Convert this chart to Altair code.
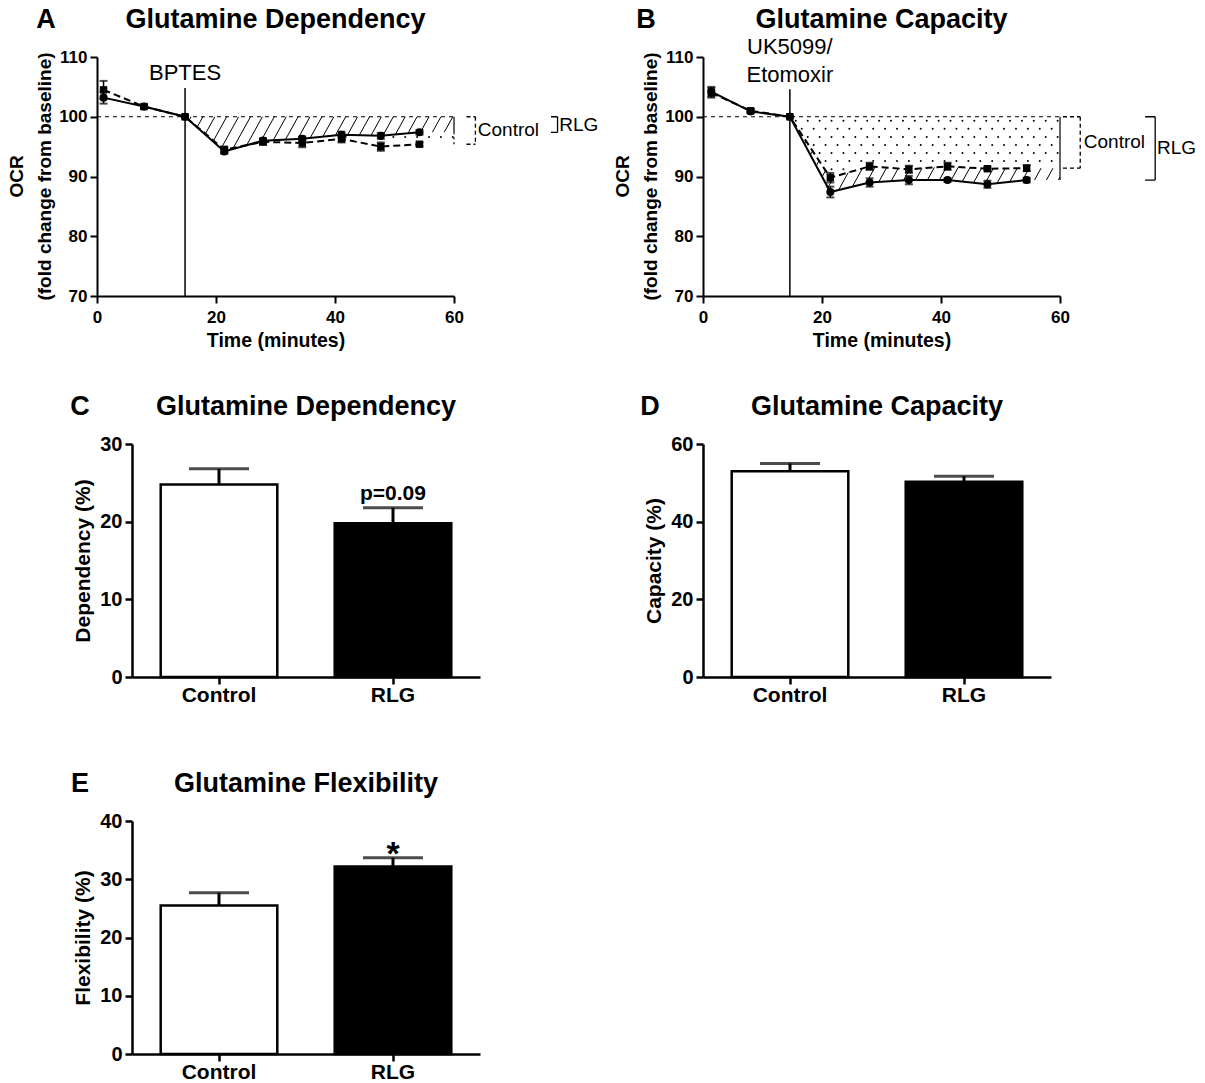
import altair as alt
import numpy as np
import pandas as pd

FONT = "Liberation Sans"
GROUPS = ["Control", "RLG"]

# ---------------- Panel A : Glutamine Dependency (OCR time course)
a_time = [1.1, 7.9, 14.8, 21.4, 27.9, 34.5, 41.1, 47.7, 54.2]
a_control = [104.5, 101.7, 100.0, 94.5, 95.8, 95.6, 96.3, 95.0, 95.4]
a_control_sem = [1.5, 0.3, 0.0, 0.5, 0.5, 0.7, 0.6, 0.7, 0.3]
a_rlg = [103.2, 101.7, 100.0, 94.2, 96.0, 96.3, 97.0, 96.8, 97.4]
a_rlg_sem = [1.0, 0.3, 0.0, 0.4, 0.4, 0.4, 0.5, 0.5, 0.4]
a_injection = 14.8
a_injection_labels = ["BPTES"]

# ---------------- Panel B : Glutamine Capacity (OCR time course)
b_time = [1.4, 8.0, 14.6, 21.4, 28.0, 34.6, 41.1, 47.8, 54.4]
b_control = [104.0, 101.0, 100.0, 89.8, 91.7, 91.2, 91.7, 91.3, 91.4]
b_control_sem = [0.8, 0.3, 0.0, 0.8, 0.6, 0.6, 0.6, 0.3, 0.5]
b_rlg = [104.2, 100.9, 100.0, 87.4, 89.0, 89.4, 89.4, 88.7, 89.4]
b_rlg_sem = [0.8, 0.3, 0.0, 0.9, 0.7, 0.7, 0.3, 0.6, 0.4]
b_injection = 14.6
b_injection_labels = ["UK5099/", "Etomoxir"]

# ---------------- Panels C, D, E : bar charts
dependency = [24.8, 19.8]
dependency_sem = [2.0, 2.0]
capacity = [53.0, 50.3]
capacity_sem = [2.0, 1.4]
flexibility = [25.5, 32.2]
flexibility_sem = [2.2, 1.5]

X_TICKS = [0, 20, 40, 60]
Y_TICKS = [70, 80, 90, 100, 110]


def interp_fn(times, vals):
    tx = np.array(list(times) + [60.0])
    vx = np.array(list(vals) + [vals[-1]])
    return lambda t: np.interp(t, tx, vx)


def const_fn(c):
    return lambda t: np.full(np.shape(t), float(c))


def hatch_df(lo, hi, t0, t1, slope, step):
    ts = np.linspace(t0, t1, 4001)
    lo_v, hi_v = lo(ts), hi(ts)
    rows = []
    for c in np.arange(t0 + step * 0.5, t1 + 40.0 / slope, step):
        v = 100.0 + slope * (ts - c)
        ok = (v >= lo_v) & (v <= hi_v)
        idx = np.flatnonzero(ok)
        if idx.size < 2:
            continue
        br = np.flatnonzero(np.diff(idx) > 1)
        starts = np.r_[idx[0], idx[br + 1]]
        ends = np.r_[idx[br], idx[-1]]
        for s, e in zip(starts, ends):
            if e > s:
                rows.append({"t": ts[s], "v": v[s], "t2": ts[e], "v2": v[e]})
    return pd.DataFrame(rows, columns=["t", "v", "t2", "v2"])


def dots_df(lo, hi, t0, t1, dt, dv, margin):
    rows = []
    j = 0
    v = 100.0 - dv * 0.5
    while v > 70:
        off = dt * 0.5 if j % 2 else 0.0
        t = t0 + dt * 0.5 + off
        while t < t1:
            a = lo(np.array([t]))[0]
            b = hi(np.array([t]))[0]
            if a + margin < v < b - margin:
                rows.append({"t": t, "v": v})
            t += dt
        v -= dv
        j += 1
    if not rows:
        rows.append({"t": None, "v": None})
    return pd.DataFrame(rows, columns=["t", "v"])


def label_layer(text, x, y, size, weight="bold", align="center", angle=0,
                baseline="middle", color="black"):
    return alt.Chart(pd.DataFrame({"label": [text]})).mark_text(
        font=FONT, fontSize=size, fontWeight=weight, align=align, angle=angle,
        baseline=baseline, color=color
    ).encode(x=alt.value(x), y=alt.value(y), text="label:N")


def spacers(left=None, top=None, right=None, bottom=None):
    """Invisible (white) anchors that fix the layout bounds of a panel."""
    out = []
    if left is not None:
        out.append(label_layer(".", left, top, 10, weight="normal", align="left",
                               baseline="top", color="white"))
    if right is not None:
        out.append(label_layer(".", right, bottom, 10, weight="normal", align="right",
                               baseline="bottom", color="white"))
    return out


def line_panel(times, ctrl, ctrl_sem, rlg, rlg_sem, inj, inj_top, inj_labels,
               inj_label_y, shade, brackets, edges, letter, letter_dx, title,
               width, height, left_space, right_space):
    xs = alt.Scale(domain=[0, 60], nice=False)
    ys = alt.Scale(domain=[70, 110], nice=False)
    x_axis = alt.Axis(values=X_TICKS, title="Time (minutes)", format="d",
                      labelFontSize=17, titleFontSize=19.5, tickSize=7,
                      labelPadding=6, titlePadding=6, labelFlush=False)
    y_axis = alt.Axis(values=Y_TICKS, title=None, labelFlush=False,
                      labelFontSize=17, tickSize=7, labelPadding=3)

    def X(f):
        return alt.X(f, type="quantitative", scale=xs, axis=x_axis)

    def Y(f):
        return alt.Y(f, type="quantitative", scale=ys, axis=y_axis)

    layers = []
    for kind, lo, hi in shade:
        if kind == "hatch":
            h = hatch_df(lo, hi, inj, 60.0, 1.8, 2.0)
            layers.append(alt.Chart(h).mark_rule(color="black", strokeWidth=1)
                          .encode(X("t"), Y("v"), x2="t2", y2="v2"))
        else:
            d = dots_df(lo, hi, inj, 60.0, 2.0, 1.35, 0.35)
            layers.append(alt.Chart(d).mark_circle(color="black", size=4, opacity=1)
                          .encode(X("t"), Y("v")))
    base = pd.DataFrame({"t": [0.0], "t2": [60.0], "v": [100.0]})
    layers.append(alt.Chart(base).mark_rule(color="black", strokeWidth=1, strokeDash=[4, 4])
                  .encode(X("t"), x2="t2", y=Y("v")))
    edge_df = pd.DataFrame(edges, columns=["t", "v", "v2", "dash"])
    for dash, sub in edge_df.groupby("dash"):
        layers.append(alt.Chart(sub).mark_rule(
            color="black", strokeWidth=1.2,
            strokeDash=[2, 3] if dash else [1, 0])
            .encode(X("t"), Y("v"), y2="v2"))
    inj_df = pd.DataFrame({"t": [inj], "v": [70.0], "v2": [inj_top]})
    layers.append(alt.Chart(inj_df).mark_rule(color="black", strokeWidth=1.5)
                  .encode(X("t"), Y("v"), y2="v2"))
    df = pd.DataFrame({
        "t": list(times) * 2,
        "v": list(ctrl) + list(rlg),
        "sem": list(ctrl_sem) + list(rlg_sem),
        "group": ["Control"] * len(times) + ["RLG"] * len(times),
    })
    df["lo"] = df["v"] - df["sem"]
    df["hi"] = df["v"] + df["sem"]
    dfc = df[df["group"] == "Control"]
    dfr = df[df["group"] == "RLG"]
    layers.append(alt.Chart(dfc).mark_line(color="black", strokeWidth=2, strokeDash=[7, 4])
                  .encode(X("t"), Y("v")))
    layers.append(alt.Chart(dfr).mark_line(color="black", strokeWidth=2)
                  .encode(X("t"), Y("v")))
    dfe = df[df["sem"] > 0]
    layers.append(alt.Chart(dfe).mark_rule(color="black", strokeWidth=1.5)
                  .encode(X("t"), Y("lo"), y2="hi"))
    for f in ["lo", "hi"]:
        layers.append(alt.Chart(dfe).mark_tick(color="black", orient="horizontal",
                                                size=8, thickness=2)
                      .encode(X("t"), Y(f)))
    layers.append(alt.Chart(dfc).mark_point(shape="square", filled=True, size=55,
                                            color="black", opacity=1)
                  .encode(X("t"), Y("v")))
    layers.append(alt.Chart(dfr).mark_point(shape="circle", filled=True, size=65,
                                            color="black", opacity=1)
                  .encode(X("t"), Y("v")))
    for name, xa, xb, bottom, dashed, tx in brackets:
        segs = pd.DataFrame({
            "t": [xa, xb, xa], "t2": [xb, xb, xb],
            "v": [100.0, 100.0, bottom], "v2": [100.0, bottom, bottom],
        })
        layers.append(alt.Chart(segs).mark_rule(
            color="black", strokeWidth=1.3,
            strokeDash=[4, 3] if dashed else [1, 0])
            .encode(X("t"), Y("v"), x2="t2", y2="v2"))
        lab = pd.DataFrame({"t": [tx], "v": [(100.0 + bottom) / 2], "label": [name]})
        layers.append(alt.Chart(lab).mark_text(font=FONT, fontSize=19, align="left",
                                               baseline="middle", color="black")
                      .encode(X("t"), Y("v"), text="label:N"))
    il = pd.DataFrame({"t": [inj] * len(inj_labels), "v": inj_label_y, "label": inj_labels})
    layers.append(alt.Chart(il).mark_text(font=FONT, fontSize=22, align="center",
                                          baseline="middle", color="black")
                  .encode(X("t"), Y("v"), text="label:N"))
    # y axis title (two lines, rotated)
    layers.append(label_layer("OCR", -80, height / 2, 19, angle=270))
    layers.append(label_layer("(fold change from baseline)", -52, height / 2, 19, angle=270))
    layers.append(label_layer(letter, letter_dx, -37, 27))
    layers.append(label_layer(title, width / 2, -37, 27))
    layers += spacers(left_space, -53, width + right_space if right_space else None,
                      height + 60)
    return alt.layer(*layers).properties(width=width, height=height)


def bar_panel(values, sems, ymax, ystep, ytitle, letter, letter_dx, title, annot,
              annot_y, annot_size, left_space, right_space=None, bottom_space=30,
              width=348, height=233):
    df = pd.DataFrame({"group": GROUPS, "value": values,
                       "top": [v + s for v, s in zip(values, sems)]})
    xs = alt.Scale(domain=GROUPS, paddingInner=0.33, paddingOuter=0.165)
    x_axis = alt.Axis(title=None, labelAngle=0, labelFontSize=21, tickSize=7,
                      labelPadding=0, domainWidth=2.5, tickWidth=2.5)
    ys = alt.Scale(domain=[0, ymax], nice=False)
    y_axis = alt.Axis(values=list(range(0, ymax + 1, ystep)), title=ytitle,
                      labelFontSize=20, titleFontSize=21, tickSize=7, labelFlush=False,
                      labelPadding=3, titlePadding=6, domainWidth=2.5, tickWidth=2.5)

    def X():
        return alt.X("group:N", sort=GROUPS, scale=xs, axis=x_axis)

    def Y(f):
        return alt.Y(f, type="quantitative", scale=ys, axis=y_axis)

    bars = alt.Chart(df).mark_bar(stroke="black", strokeWidth=2.5).encode(
        X(), Y("value"),
        fill=alt.Fill("group:N", scale=alt.Scale(domain=GROUPS, range=["white", "black"]),
                      legend=None))
    err = alt.Chart(df).mark_rule(color="black", strokeWidth=3).encode(
        X(), Y("value"), y2="top")
    cap = alt.Chart(df).mark_tick(color="black", orient="horizontal", size=60,
                                  thickness=3).encode(X(), Y("top"))
    layers = [err, bars, cap]
    if annot:
        a = pd.DataFrame({"group": ["RLG"], "y": [annot_y], "label": [annot]})
        layers.append(alt.Chart(a).mark_text(font=FONT, fontSize=annot_size,
                                             fontWeight="bold", align="center",
                                             baseline="alphabetic", color="black")
                      .encode(X(), Y("y"), text="label:N"))
    layers.append(label_layer(letter, letter_dx, -37, 27))
    layers.append(label_layer(title, width / 2, -37, 27))
    layers += spacers(left_space, -53,
                      width + right_space if right_space is not None else None,
                      height + bottom_space)
    return alt.layer(*layers).properties(width=width, height=height)


def dummy(width):
    return alt.Chart(pd.DataFrame({"label": ["."]})).mark_text(
        font=FONT, fontSize=10, align="left", baseline="top", color="white"
    ).encode(x=alt.value(0), y=alt.value(0), text="label:N").properties(
        width=width, height=1)


fa_c = interp_fn(a_time, a_control)
fa_r = interp_fn(a_time, a_rlg)
fb_c = interp_fn(b_time, b_control)
fb_r = interp_fn(b_time, b_rlg)

panel_a = line_panel(
    a_time, a_control, a_control_sem, a_rlg, a_rlg_sem,
    a_injection, 104.8, a_injection_labels, [107.3],
    shade=[("hatch", fa_r, const_fn(100.0)), ("dots", fa_c, fa_r)],
    brackets=[("Control", 62.1, 63.6, a_control[-1], True, 64.0),
              ("RLG", 76.3, 77.4, a_rlg[-1], False, 77.7)],
    edges=[(60.0, 100.0, a_rlg[-1], False), (60.0, a_rlg[-1], a_control[-1], True)],
    letter="A", letter_dx=-51, title="Glutamine Dependency", width=357, height=239,
    left_space=-94, right_space=150)

panel_b = line_panel(
    b_time, b_control, b_control_sem, b_rlg, b_rlg_sem,
    b_injection, 104.6, b_injection_labels, [111.7, 107.0],
    shade=[("dots", fb_c, const_fn(100.0)), ("hatch", fb_r, fb_c)],
    brackets=[("Control", 60.5, 63.4, b_control[-1], True, 64.0),
              ("RLG", 74.3, 76.0, b_rlg[-1], False, 76.3)],
    edges=[(60.0, 100.0, b_rlg[-1], False)],
    letter="B", letter_dx=-57, title="Glutamine Capacity", width=357, height=239,
    left_space=-96, right_space=None)

panel_c = bar_panel(dependency, dependency_sem, 30, 10, "Dependency (%)", "C", -52,
                    "Glutamine Dependency", "p=0.09", 22.8, 21,
                    left_space=-129, right_space=100)
panel_d = bar_panel(capacity, capacity_sem, 60, 20, "Capacity (%)", "D", -53,
                    "Glutamine Capacity", None, None, 21, left_space=-100)
panel_e = bar_panel(flexibility, flexibility_sem, 40, 10, "Flexibility (%)", "E", -52,
                    "Glutamine Flexibility", "*", 32.4, 34, left_space=-129,
                    bottom_space=28)

row1 = alt.hconcat(dummy(3), alt.hconcat(panel_a, panel_b, spacing=3), spacing=0)
row2 = alt.hconcat(dummy(3), alt.hconcat(panel_c, panel_d, spacing=23), spacing=0)
row3 = alt.hconcat(dummy(3), panel_e, spacing=0)

chart = alt.vconcat(
    alt.vconcat(row1, row2, spacing=35), row3, spacing=61
).properties(
    padding={"left": 0, "top": 4, "right": 0, "bottom": 0},
    background="white"
).configure_view(stroke=None).configure_axis(
    domainColor="black", domainWidth=2, tickColor="black", tickWidth=2,
    labelColor="black", titleColor="black", labelFont=FONT, titleFont=FONT,
    labelFontWeight="bold", titleFontWeight="bold", grid=False
)

chart.save("out.html", embed_options={"renderer": "svg", "actions": False})
